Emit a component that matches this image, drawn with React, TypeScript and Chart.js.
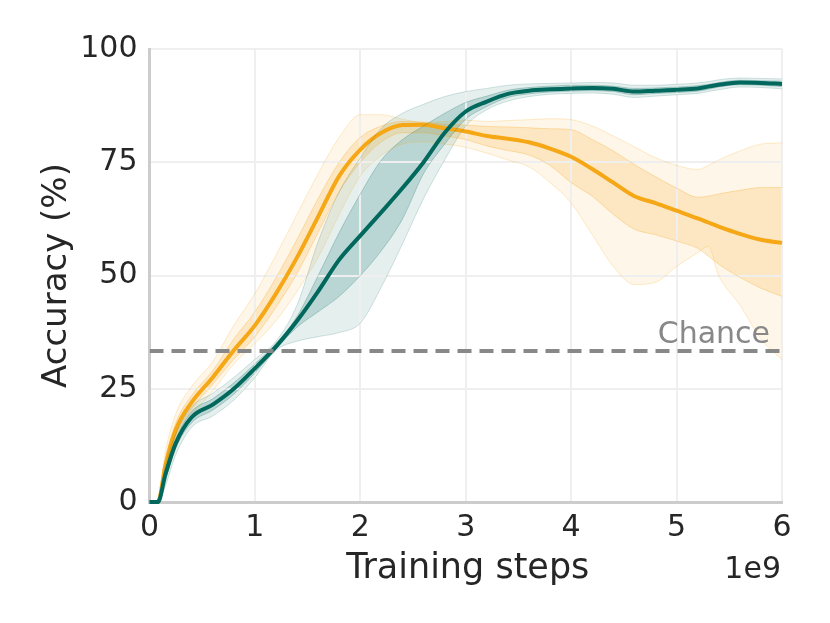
import React, { useEffect, useRef } from "react";
import { Chart, registerables } from "chart.js";

Chart.register(...registerables);

// Training steps (in units of 1e9)
const steps = [0, 0.08, 0.15, 0.25, 0.4, 0.6, 0.8, 1.0, 1.2, 1.4, 1.6, 1.8, 2.0, 2.2, 2.4, 2.6, 2.8, 3.0, 3.2, 3.4, 3.6, 3.8, 4.0, 4.2, 4.4, 4.6, 4.8, 5.0, 5.2, 5.3, 5.4, 5.6, 5.8, 6.0];

// Orange run
const orangeMean = [0, 0, 8, 16, 22, 27.5, 33.5, 39, 46, 54, 63, 72, 77.8, 81.5, 83.2, 83.3, 82.5, 81.8, 80.8, 80.2, 79.4, 78, 76.2, 73.5, 70.5, 67.5, 66, 64.3, 62.6, 61.7, 60.8, 59.2, 57.9, 57.2];
const orangeOuterUpper = [0, 0.5, 11, 19.5, 25.5, 31, 39, 46, 54.5, 63.5, 72.5, 80.5, 85.5, 85.5, 84.5, 83.8, 84, 84.3, 84, 84.2, 84.4, 84.6, 84.4, 83, 80.8, 78.4, 76, 74.3, 73.4, 74.3, 75.5, 77.5, 79, 79.3];
const orangeOuterLower = [0, 0, 5, 12, 19, 24.5, 30.5, 35, 40, 46.5, 54, 63.5, 72, 76.5, 79, 79.5, 79, 78.3, 77, 75.5, 74, 70.5, 66, 59, 52, 48, 48.5, 52, 55, 56.4, 50, 43.5, 36, 31.4];
const orangeInnerUpper = [0, 0, 9.5, 17.5, 23.5, 29, 36, 42, 49.5, 58, 67, 75, 80.5, 83, 84, 83.8, 83.4, 83.2, 82.9, 82.8, 82.6, 82.4, 82.2, 80, 77.5, 74.5, 71.8, 69.3, 67.3, 67.5, 68, 68.8, 69.4, 69.4];
const orangeInnerLower = [0, 0, 6.5, 14.5, 20.5, 26, 31.5, 36.5, 43, 50.5, 59.5, 68.5, 75, 79.5, 81.5, 81.5, 80.8, 80, 78.6, 77.6, 76.6, 74.3, 70.5, 67.5, 63.5, 60.2, 59, 57.6, 56, 54.3, 52.5, 49.6, 47.2, 45.4];

// Teal run
const tealMean = [0, 0, 6, 13, 18.7, 21.5, 25, 29.5, 34.3, 40, 46.5, 53.5, 58.8, 64, 69.3, 75, 81.5, 86.2, 88.4, 90.1, 90.8, 91.1, 91.3, 91.4, 91.2, 90.6, 90.8, 91, 91.3, 91.7, 92.1, 92.6, 92.5, 92.3];
const tealOuterUpper = [0, 0.5, 8, 15, 21, 24, 27.5, 31.5, 35.5, 43.5, 57.5, 68.5, 76, 82.5, 85.8, 87.8, 89.5, 90.6, 91.3, 92, 92.3, 92.4, 92.5, 92.6, 92.5, 92, 92, 92.2, 92.5, 92.8, 93.2, 93.6, 93.5, 93.4];
const tealOuterLower = [0, 0, 3.5, 10.5, 16.5, 19, 22.5, 27.5, 33.5, 35.5, 36.5, 37.4, 39.5, 47.5, 57, 67, 75.5, 83, 86.6, 88.5, 89.5, 90, 90.2, 90.3, 90, 89.3, 89.6, 89.9, 90.2, 90.6, 91, 91.6, 91.5, 91.2];
const tealInnerUpper = [0, 0, 7, 14, 20, 22.8, 26.3, 30.5, 35, 41, 50, 59.5, 68, 75.5, 80, 83, 85.8, 88.2, 89.6, 90.9, 91.5, 91.8, 92, 92, 91.8, 91.3, 91.4, 91.6, 91.9, 92.2, 92.6, 93.1, 93, 92.9];
const tealInnerLower = [0, 0, 5, 12, 17.5, 20.3, 23.8, 28.5, 33.8, 38.6, 42, 45.4, 50, 55.5, 62.5, 72.5, 79, 84.5, 87.3, 89.3, 90.1, 90.5, 90.7, 90.8, 90.6, 89.9, 90.2, 90.4, 90.7, 91.1, 91.6, 92.1, 92, 91.7];

const chanceLevel = 100 / 3;
const xTicks = [0, 1, 2, 3, 4, 5, 6];
const yTicks = [0, 25, 50, 75, 100];

const ORANGE = "#f5a716";
const TEAL = "#00685c";
const FONT = "'DejaVu Sans', sans-serif";

const pts = (ys: number[]) => steps.map((x, i) => ({ x, y: ys[i] }));

const textPlugin = {
  id: "labels",
  afterDraw(chart: any) {
    const ctx = chart.ctx;
    const { chartArea } = chart;
    const yScale = chart.scales.y;
    ctx.save();
    ctx.fillStyle = "#262626";
    ctx.font = `35px ${FONT}`;
    ctx.textAlign = "center";
    ctx.textBaseline = "alphabetic";
    ctx.fillText("Training steps", (chartArea.left + chartArea.right) / 2 + 2, 578);
    ctx.font = `30px ${FONT}`;
    ctx.textAlign = "right";
    ctx.fillText("1e9", chartArea.right - 1, 578);
    ctx.save();
    ctx.translate(66, (chartArea.top + chartArea.bottom) / 2);
    ctx.rotate(-Math.PI / 2);
    ctx.font = `34px ${FONT}`;
    ctx.textAlign = "center";
    ctx.fillText("Accuracy (%)", 0, 0);
    ctx.restore();
    ctx.fillStyle = "#888888";
    ctx.font = `30px ${FONT}`;
    ctx.textAlign = "right";
    ctx.fillText("Chance", chartArea.right - 12, yScale.getPixelForValue(chanceLevel) - 8);
    ctx.restore();
  },
};

export default function App() {
  const canvasRef = useRef<HTMLCanvasElement | null>(null);

  useEffect(() => {
    if (!canvasRef.current) return;
    const band = (ys: number[], color: string, fillColor: string | false, target: number | false, order: number) => ({
      data: pts(ys),
      borderColor: color,
      borderWidth: 1,
      pointRadius: 0,
      backgroundColor: fillColor || "transparent",
      fill: target === false ? false : { target },
      order,
    });
    const chart = new Chart(canvasRef.current, {
      type: "line",
      data: {
        datasets: [
          band(orangeOuterUpper, "rgba(245,167,22,0.22)", "rgba(247,168,35,0.10)", 1, 4),
          band(orangeOuterLower, "rgba(245,167,22,0.22)", false, false, 4),
          band(orangeInnerUpper, "rgba(245,167,22,0.30)", "rgba(247,168,35,0.20)", 3, 4),
          band(orangeInnerLower, "rgba(245,167,22,0.30)", false, false, 4),
          {
            data: pts(orangeMean),
            borderColor: ORANGE,
            borderWidth: 4,
            pointRadius: 0,
            fill: false,
            order: 3,
            clip: false,
          },
          band(tealOuterUpper, "rgba(0,104,94,0.18)", "rgba(0,104,94,0.106)", 6, 2),
          band(tealOuterLower, "rgba(0,104,94,0.18)", false, false, 2),
          band(tealInnerUpper, "rgba(0,104,94,0.25)", "rgba(0,104,94,0.19)", 8, 2),
          band(tealInnerLower, "rgba(0,104,94,0.25)", false, false, 2),
          {
            data: pts(tealMean),
            borderColor: TEAL,
            borderWidth: 4,
            pointRadius: 0,
            fill: false,
            order: 1,
            clip: false,
          },
          {
            data: [
              { x: 0, y: chanceLevel },
              { x: 6, y: chanceLevel },
            ],
            borderColor: "#888888",
            borderWidth: 4,
            borderDash: [14, 8],
            pointRadius: 0,
            fill: false,
            order: 0,
          },
        ] as any,
      },
      options: {
        animation: false,
        responsive: true,
        maintainAspectRatio: false,
        layout: { padding: { left: 0, top: 49, right: 48, bottom: 0 } },
        plugins: {
          legend: { display: false },
          tooltip: { enabled: false },
          filler: { drawTime: "beforeDraw", propagate: false },
        } as any,
        elements: { line: { cubicInterpolationMode: "monotone" } },
        scales: {
          x: {
            type: "linear",
            min: 0,
            max: 6,
            afterFit: (s: any) => {
              s.height = 121;
            },
            afterBuildTicks: (s: any) => {
              s.ticks = xTicks.map((v) => ({ value: v }));
            },
            ticks: {
              color: "#262626",
              font: { family: FONT, size: 30 },
              padding: 8,
              maxRotation: 0,
            },
            grid: { color: "#efefef", lineWidth: 2, drawTicks: false },
            border: { color: "#cccccc", width: 3 },
          },
          y: {
            type: "linear",
            min: 0,
            max: 100,
            afterFit: (s: any) => {
              s.width = 149.5;
            },
            afterBuildTicks: (s: any) => {
              s.ticks = yTicks.map((v) => ({ value: v }));
            },
            ticks: {
              color: "#262626",
              font: { family: FONT, size: 30 },
              padding: 12,
            },
            grid: { color: "#efefef", lineWidth: 2, drawTicks: false },
            border: { color: "#cccccc", width: 3 },
          },
        },
      } as any,
      plugins: [textPlugin],
    });
    return () => chart.destroy();
  }, []);

  return (
    <div style={{ position: "absolute", left: 0, top: 0, width: 830, height: 623 }}>
      <canvas ref={canvasRef} />
    </div>
  );
}
